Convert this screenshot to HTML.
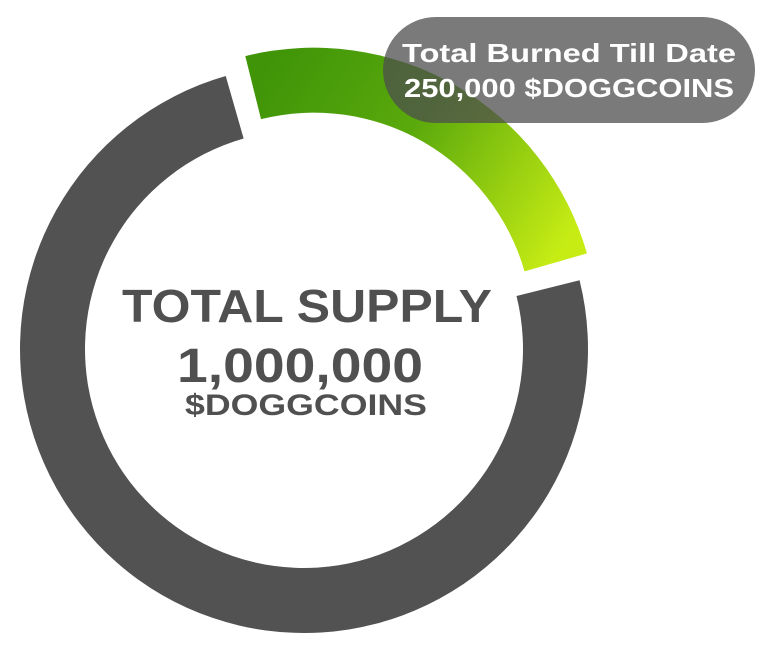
<!DOCTYPE html>
<html><head><meta charset="utf-8"><style>
html,body{margin:0;padding:0;background:#fff;width:768px;height:657px;overflow:hidden}
svg{display:block}
text{font-family:"Liberation Sans",sans-serif;font-weight:bold}
</style></head><body>
<svg id="chart" width="768" height="657" viewBox="0 0 768 657">
<defs>
<linearGradient id="greenGrad" gradientUnits="userSpaceOnUse" x1="270" y1="60" x2="560" y2="250">
<stop offset="0" stop-color="#3f9408"/><stop offset="0.45" stop-color="#5aa90c"/><stop offset="1" stop-color="#c6ec14"/>
</linearGradient>
</defs>
<g id="slices"></g>
<g fill="#505050" text-anchor="middle">
<text x="307" y="322" font-size="46" textLength="370" lengthAdjust="spacingAndGlyphs">TOTAL SUPPLY</text>
<text x="300" y="382" font-size="48" textLength="246" lengthAdjust="spacingAndGlyphs">1,000,000</text>
<text x="306" y="415" font-size="30" textLength="242" lengthAdjust="spacingAndGlyphs">$DOGGCOINS</text>
</g>
<g>
<rect x="383" y="17" width="372" height="106" rx="53" ry="53" fill="#4e4e4e" fill-opacity="0.75"/>
<text x="569" y="62" font-size="26" fill="#fff" text-anchor="middle" textLength="334" lengthAdjust="spacingAndGlyphs">Total Burned Till Date</text>
<text x="569" y="97" font-size="26" fill="#fff" text-anchor="middle" textLength="330" lengthAdjust="spacingAndGlyphs">250,000 $DOGGCOINS</text>
</g>
</svg>
<script>
const categories = ["Burned", "Remaining"];
const values = [250000, 750000];
const fills = ["url(#greenGrad)", "#525252"];
const explode = [20, 0];

const cx = 304, cy = 349, R = 284, r = 219;
const startDeg = -105, padDeg = 1;
const total = values.reduce((a, b) => a + b, 0);
function angleScale(v) { return v / total * 360; }
function pt(rad, deg, dx, dy) {
  const a = deg * Math.PI / 180;
  return [cx + dx + rad * Math.cos(a), cy + dy + rad * Math.sin(a)];
}
const g = document.getElementById('slices');
let acc = startDeg;
values.forEach((v, i) => {
  const span = angleScale(v);
  const a0 = acc + padDeg, a1 = acc + span - padDeg;
  const mid = (acc + acc + span) / 2 * Math.PI / 180;
  const dx = explode[i] * Math.cos(mid), dy = explode[i] * Math.sin(mid);
  const large = (a1 - a0) > 180 ? 1 : 0;
  const p0 = pt(R, a0, dx, dy), p1 = pt(R, a1, dx, dy), p2 = pt(r, a1, dx, dy), p3 = pt(r, a0, dx, dy);
  const d = `M${p0[0]},${p0[1]} A${R},${R} 0 ${large} 1 ${p1[0]},${p1[1]} L${p2[0]},${p2[1]} A${r},${r} 0 ${large} 0 ${p3[0]},${p3[1]} Z`;
  const path = document.createElementNS('http://www.w3.org/2000/svg', 'path');
  path.setAttribute('d', d);
  path.setAttribute('fill', fills[i]);
  
  
  g.appendChild(path);
  acc += span;
});
</script>
</body></html>
